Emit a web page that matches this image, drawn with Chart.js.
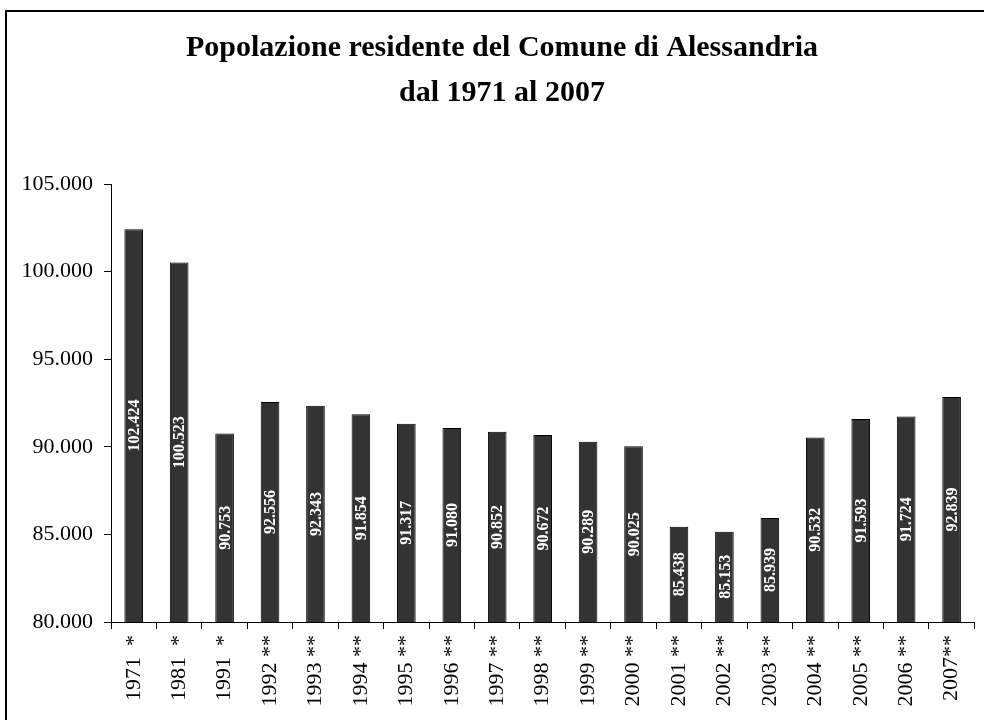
<!DOCTYPE html>
<html>
<head>
<meta charset="utf-8">
<script src="https://cdn.jsdelivr.net/npm/chart.js"></script>
<style>
  body { margin: 0; background: #fff; }
  #frame { position: absolute; left: 5px; top: 10px; width: 984px; height: 720px;
           border-top: 2px solid #000; border-left: 2px solid #000; }
  #wrap { position: absolute; left: 0; top: 0; width: 984px; height: 720px; }
</style>
</head>
<body>
<div id="frame"></div>
<div id="wrap"><canvas id="popChart" width="984" height="720"></canvas></div>
<script>
const years = ["1971  *", "1981  *", "1991  *", "1992 **", "1993 **", "1994 **", "1995 **",
  "1996 **", "1997 **", "1998 **", "1999 **", "2000 **", "2001 **", "2002 **", "2003 **",
  "2004 **", "2005 **", "2006 **", "2007**"];
const residents = [102424, 100523, 90753, 92556, 92343, 91854, 91317, 91080, 90852, 90672,
  90289, 90025, 85438, 85153, 85939, 90532, 91593, 91724, 92839];
const titleLines = ["Popolazione residente del Comune di Alessandria", "dal 1971 al 2007"];

const serif = "'Liberation Serif', 'Times New Roman', serif";

// format 102424 -> "102.424"
const fmt = (v) => (v / 1000).toFixed(3);

// white vertical value labels, centred in the visible part of each bar
const barLabels = {
  id: "barLabels",
  afterDatasetsDraw(chart) {
    const c = chart.ctx;
    const meta = chart.getDatasetMeta(0);
    const bottom = chart.chartArea.bottom;
    c.save();
    c.fillStyle = "#ffffff";
    c.font = "bold 16px " + serif;
    c.textAlign = "center";
    c.textBaseline = "middle";
    meta.data.forEach((bar, i) => {
      const p = bar.getProps(["x", "y", "base"], true);
      c.save();
      c.translate(p.x, (p.y + Math.min(p.base, bottom)) / 2);
      c.rotate(-Math.PI / 2);
      c.fillText(fmt(residents[i]), 0, 1);
      c.restore();
    });
    c.restore();
  },
};

new Chart(document.getElementById("popChart"), {
  type: "bar",
  data: {
    labels: years,
    datasets: [
      {
        data: residents,
        backgroundColor: "#333333",
        borderColor: "#000",
        borderWidth: 1,
        categoryPercentage: 1,
        barPercentage: 0.41,
      },
    ],
  },
  options: {
    responsive: false,
    animation: false,
    layout: { padding: { left: 20, right: 0, top: 0, bottom: 0 } },
    plugins: {
      legend: { display: false },
      tooltip: { enabled: false },
      title: {
        display: true,
        text: titleLines,
        color: "#000",
        font: { family: serif, size: 30, weight: "bold", lineHeight: 1.5 },
        padding: { top: 26, bottom: 68 },
      },
    },
    scales: {
      x: {
        afterFit: (scale) => { scale.height = 98; },
        border: { color: "#000", width: 1 },
        grid: { offset: true, drawOnChartArea: false, color: "#000", tickLength: 7 },
        ticks: {
          color: "#000",
          font: { family: serif, size: 22 },
          minRotation: 90,
          maxRotation: 90,
          padding: 6,
          autoSkip: false,
        },
      },
      y: {
        min: 80000,
        max: 105000,
        afterFit: (scale) => { scale.width = 91; },
        border: { color: "#000", width: 1 },
        grid: { drawOnChartArea: false, color: "#000", tickLength: 7 },
        ticks: {
          stepSize: 5000,
          color: "#000",
          font: { family: serif, size: 22 },
          padding: 11,
          callback: (v) => fmt(v),
        },
      },
    },
  },
  plugins: [barLabels],
});
</script>
</body>
</html>
